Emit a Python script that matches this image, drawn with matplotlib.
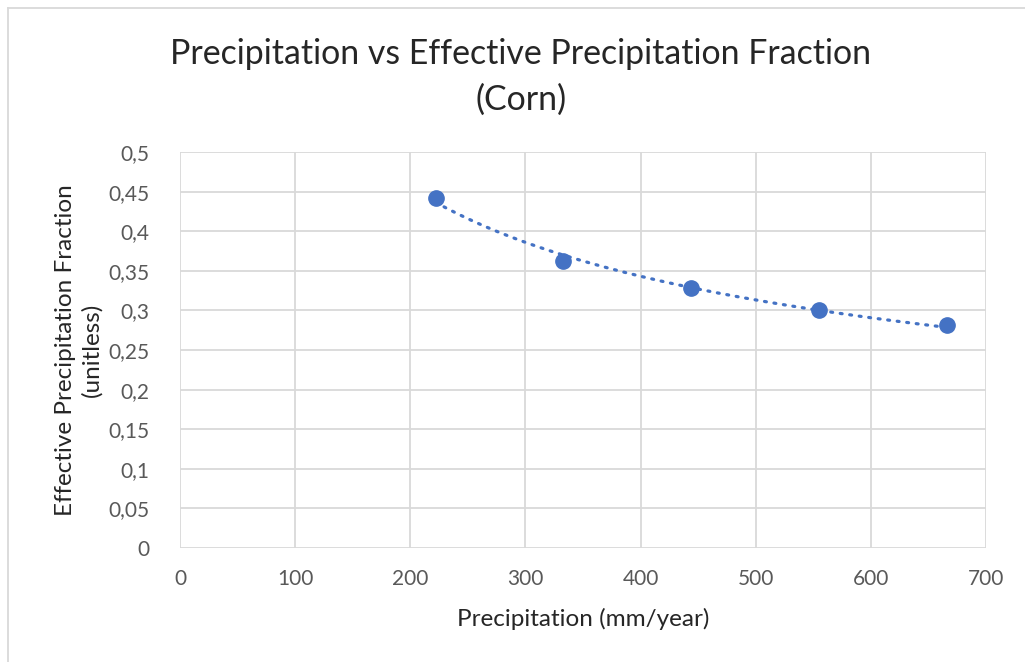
import numpy as np
import matplotlib.pyplot as plt
from matplotlib.lines import Line2D

# Data
precip = [222, 333, 444, 555, 666]
eff_frac = [0.442, 0.363, 0.328, 0.300, 0.281]
x_ticks = [0, 100, 200, 300, 400, 500, 600, 700]
y_ticks = [0, 0.05, 0.1, 0.15, 0.2, 0.25, 0.3, 0.35, 0.4, 0.45, 0.5]
y_tick_labels = ["0", "0,05", "0,1", "0,15", "0,2", "0,25", "0,3", "0,35", "0,4", "0,45", "0,5"]

plt.rcParams['font.family'] = ['Lato', 'DejaVu Sans']

fig = plt.figure(figsize=(10.25, 6.62), dpi=100)
ax = fig.add_axes([180 / 1025, 1 - 548 / 662, 806 / 1025, 396 / 662])

blue = '#4472C4'
grid = '#D9D9D9'
txt = '#595959'

# Power trendline fitted in log space
xp = np.array(precip, dtype=float)
yp = np.array(eff_frac, dtype=float)
b, lna = np.polyfit(np.log(xp), np.log(yp), 1)
xt = np.linspace(xp.min(), xp.max(), 200)
ax.plot(xt, np.exp(lna) * xt ** b, color=blue, lw=2.3, ls=(0, (0.6, 2.4)),
        dash_capstyle='round', zorder=2)

ax.plot(precip, eff_frac, 'o', color=blue, ms=11, mec=blue, zorder=3)

ax.set_xlim(0, 700)
ax.set_ylim(0, 0.5)
ax.set_xticks(x_ticks)
ax.set_xticklabels([str(v) for v in x_ticks])
ax.set_yticks(y_ticks)
ax.set_yticklabels(y_tick_labels)
ax.grid(True, color=grid, lw=1.3)
ax.set_axisbelow(True)
for s in ax.spines.values():
    s.set_visible(False)
ax.tick_params(length=0, labelsize=15, colors=txt)
ax.tick_params(axis='x', pad=15)
ax.tick_params(axis='y', pad=22)

ax.set_xlabel("Precipitation (mm/year)", fontsize=17.5, color='#262626', labelpad=14)
ax.set_ylabel("Effective Precipitation Fraction\n(unitless)", fontsize=17.5,
              color='#262626', labelpad=4, linespacing=1.3)

fig.text(521 / 1025, 1 - 77 / 662, "Precipitation vs Effective Precipitation Fraction\n(Corn)",
         ha='center', va='center', fontsize=24.4, color='#262626', linespacing=1.55)

# Chart area border
fig.add_artist(Line2D([8 / 1025, 1], [1 - 8 / 662, 1 - 8 / 662], color=grid, lw=1.3))
fig.add_artist(Line2D([8 / 1025, 8 / 1025], [0, 1 - 8 / 662], color=grid, lw=1.3))

fig.savefig('out.png', dpi=100, facecolor='white')
